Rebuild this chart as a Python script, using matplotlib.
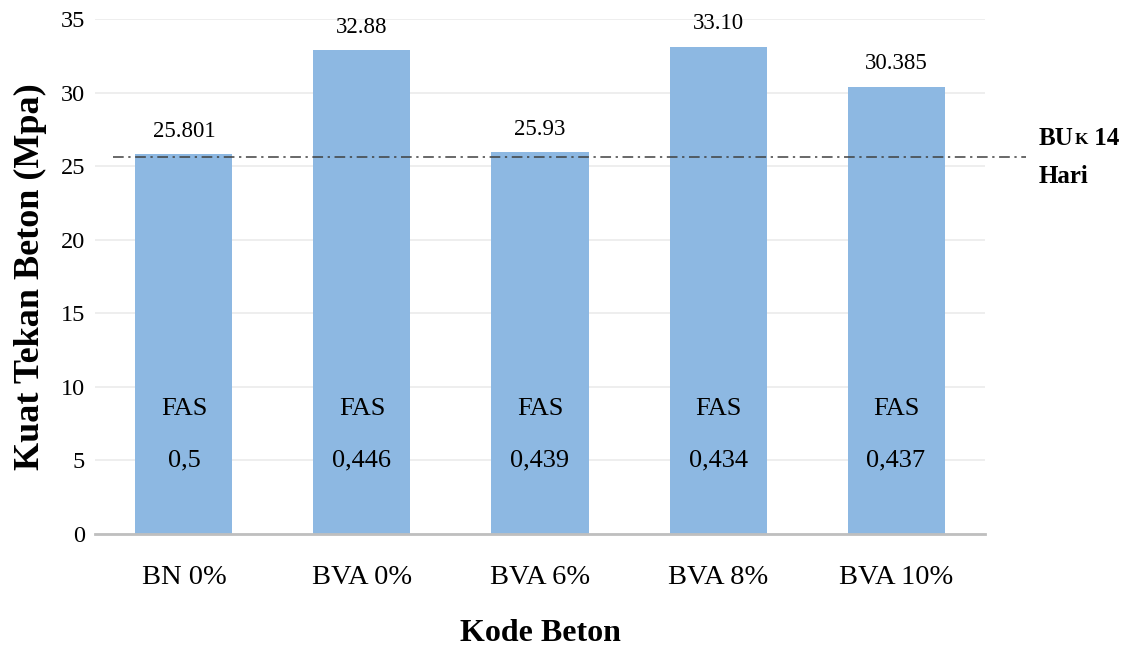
import matplotlib.pyplot as plt

plt.rcParams['font.family'] = ['Liberation Serif', 'DejaVu Serif']

# data
kode = ['BN 0%', 'BVA 0%', 'BVA 6%', 'BVA 8%', 'BVA 10%']
kuat_tekan = [25.801, 32.88, 25.93, 33.10, 30.385]
label_kuat = ['25.801', '32.88', '25.93', '33.10', '30.385']
fas = ['0,5', '0,446', '0,439', '0,434', '0,437']
bu_k14 = 25.63

fig = plt.figure(figsize=(11.25, 6.47), dpi=100)
ax = fig.add_axes([0.0844, 0.1747, 0.7912, 0.7959])

x = list(range(len(kode)))
bars = ax.bar(x, kuat_tekan, width=0.545, color='#8DB8E2', zorder=2)

# value labels above bars
for xi, v, s in zip(x, kuat_tekan, label_kuat):
    ax.annotate(s, (xi, v), xytext=(0, 9), textcoords='offset points',
                ha='center', va='bottom', fontsize=16.5)

# FAS text inside bars
for xi, f in zip(x, fas):
    ax.text(xi, 8.5, 'FAS', ha='center', va='center', fontsize=19, zorder=3)
    ax.text(xi, 5.0, f, ha='center', va='center', fontsize=19, zorder=3)

# reference line BUk 14 hari
ax.plot([-0.4, 4.73], [bu_k14, bu_k14], color='#404040', lw=1.1,
        ls=(0, (7, 3, 1.5, 3)), clip_on=False, zorder=4)

t1 = ax.text(1.06, 0.755, 'BU', transform=ax.transAxes, fontsize=18,
             fontweight='bold', ha='left', va='baseline')
t2 = ax.annotate('K', xy=(1, 0), xycoords=t1, xytext=(1, 1.5),
                 textcoords='offset points', fontsize=12.5, fontweight='bold',
                 ha='left', va='bottom')
ax.annotate(' 14', xy=(1, 0), xycoords=t2, xytext=(0, -1.5),
            textcoords='offset points', fontsize=18, fontweight='bold',
            ha='left', va='bottom')
ax.text(1.06, 0.682, 'Hari', transform=ax.transAxes, fontsize=18,
        fontweight='bold', ha='left', va='baseline')

ax.set_xlim(-0.5, 4.5)
ax.set_ylim(0, 35)
ax.set_yticks(range(0, 36, 5))
ax.set_xticks(x)
ax.set_xticklabels(kode, fontsize=20.5)
ax.tick_params(axis='y', labelsize=17.5, length=0, pad=7)
ax.tick_params(axis='x', length=0, pad=22)
ax.grid(axis='y', color='#EBEBEB', lw=1.2, zorder=0)

for side in ['top', 'right', 'left']:
    ax.spines[side].set_visible(False)
ax.spines['bottom'].set_color('#BFBFBF')
ax.spines['bottom'].set_linewidth(2)
ax.spines['bottom'].set_zorder(3)

ax.set_xlabel('Kode Beton', fontsize=23, fontweight='bold', labelpad=21)
ax.set_ylabel('Kuat Tekan Beton (Mpa)', fontsize=26, fontweight='bold', labelpad=10)

fig.savefig('out.png', dpi=100)
